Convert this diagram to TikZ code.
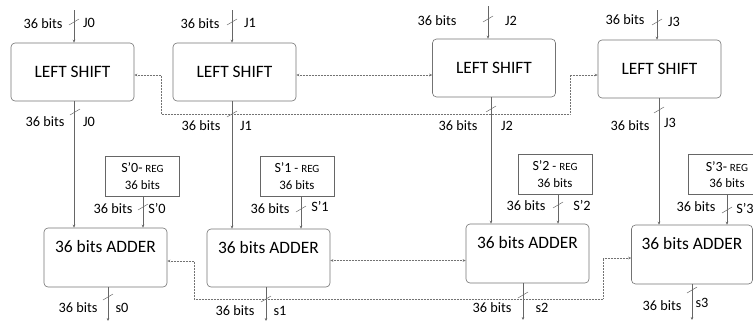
\documentclass[tikz,border=0pt]{standalone}
\usepackage{fontspec}
\setmainfont{Carlito}
\usetikzlibrary{arrows.meta}
\begin{document}
\begin{tikzpicture}[x=1pt,y=-1pt,
  box/.style={draw=black!55, rounded corners=4pt, line width=0.6pt, inner sep=0pt, minimum width=123pt},
  regbox/.style={draw=black!60, line width=0.6pt, inner sep=0pt, minimum width=74pt, minimum height=40pt,
    align=center, font=\fontsize{12.9}{16.5}\selectfont},
  wire/.style={draw=black!60, line width=0.6pt},
  arr/.style={-{Stealth[length=3pt,width=2.6pt]}},
  arrboth/.style={{Stealth[length=3pt,width=2.6pt]}-{Stealth[length=3pt,width=2.6pt]}},
  dotw/.style={draw=black!55, line width=0.6pt, dash pattern=on 0.7pt off 0.8pt},
  tick/.style={draw=black!60, line width=0.5pt},
  lbl/.style={font=\fontsize{14.3}{16}\selectfont, inner sep=0pt},
  big/.style={font=\fontsize{17.4}{20}\selectfont}
]
\useasboundingbox (0,0) rectangle (753,322);
\begin{scope}
\clip (0,0) rectangle (753,322);
% LEFT SHIFT boxes
\node[box, minimum height=58pt, big] (LS0) at (72.5,72) {LEFT SHIFT};
\node[box, minimum height=58pt, big] (LS1) at (234.5,72) {LEFT SHIFT};
\node[box, minimum height=58pt, big] (LS2) at (494,68) {LEFT SHIFT};
\node[box, minimum height=58pt, big] (LS3) at (659.5,69) {LEFT SHIFT};
% adders
\node[box, minimum height=59pt] (A0) at (105.5,257.5) {};
\node[box, minimum height=58pt] (A1) at (268.5,258) {};
\node[box, minimum height=59pt] (A2) at (527.5,253.5) {};
\node[box, minimum height=59pt, minimum width=121pt] (A3) at (692,254.5) {};
\node[big, inner sep=0pt, anchor=base] (A0t) at ([yshift=-25pt]A0.north) {36 bits ADDER};
\node[big, inner sep=0pt, anchor=base] (A1t) at ([yshift=-25pt]A1.north) {36 bits ADDER};
\node[big, inner sep=0pt, anchor=base] (A2t) at ([yshift=-25pt]A2.north) {36 bits ADDER};
\node[big, inner sep=0pt, anchor=base] (A3t) at ([yshift=-25pt]A3.north) {36 bits ADDER};
% registers
\node[regbox] (R0) at (142.5,176) {{\fontsize{14}{16.5}\selectfont S’0-} {\fontsize{11}{16.5}\selectfont REG}\\36 bits};
\node[regbox] (R1) at (297,176) {{\fontsize{14}{16.5}\selectfont S’1} - {\fontsize{11}{16.5}\selectfont REG}\\36 bits};
\node[regbox] (R2) at (555,174) {{\fontsize{14}{16.5}\selectfont S’2} - {\fontsize{11}{16.5}\selectfont REG}\\36 bits};
\node[regbox, minimum width=78pt] (R3) at (727,174.5) {{\fontsize{14}{16.5}\selectfont S’3-} {\fontsize{11}{16.5}\selectfont REG}\\36 bits};

% inputs of LEFT SHIFT
\coordinate (i0) at (74,10);
\coordinate (i1) at (232,10);
\coordinate (i2) at (488,6);
\coordinate (i3) at (657,10);
\draw[wire,arr] (i0) -- (i0 |- LS0.north);
\draw[wire,arr] (i1) -- (i1 |- LS1.north);
\draw[wire,arr] (i2) -- (i2 |- LS2.north);
\draw[wire,arr] (i3) -- (i3 |- LS3.north);
% LEFT SHIFT -> adders
\coordinate (o0) at (74,0);
\coordinate (o1) at (232,0);
\coordinate (o2) at (491,0);
\coordinate (o3) at (659,0);
\draw[wire,arr] (o0 |- LS0.south) -- (o0 |- A0.north);
\draw[wire,arr] (o1 |- LS1.south) -- (o1 |- A1.north);
\draw[wire,arr] (o2 |- LS2.south) -- (o2 |- A2.north);
\draw[wire,arr] (o3 |- LS3.south) -- (o3 |- A3.north);
% registers -> adders
\coordinate (r0) at (143,0);
\coordinate (r1) at (301,0);
\coordinate (r2) at (558,0);
\coordinate (r3) at (727,0);
\draw[wire,arr] (r0 |- R0.south) -- (r0 |- A0.north);
\draw[wire,arr] (r1 |- R1.south) -- (r1 |- A1.north);
\draw[wire,arr] (r2 |- R2.south) -- (r2 |- A2.north);
\draw[wire,arr] (r3 |- R3.south) -- (r3 |- A3.north);
% adder outputs
\coordinate (s0) at (108,321);
\coordinate (s1) at (266,321);
\coordinate (s2) at (523,320);
\coordinate (s3) at (692,320);
\draw[wire,arr] (s0 |- A0.south) -- (s0);
\draw[wire,arr] (s1 |- A1.south) -- (s1);
\draw[wire,arr] (s2 |- A2.south) -- (s2);
\draw[wire,arr] (s3 |- A3.south) -- (s3);

% dotted links
\coordinate (d1) at (161,75);
\coordinate (d2) at (161,114);
\coordinate (d3) at (570,114);
\coordinate (d4) at (570,75);
\draw[dotw,arrboth] ([yshift=-3pt]LS0.east) -- (d1) -- (d2) -- (d3) -- (d4) -- ([yshift=-6pt]LS3.west);
\draw[dotw,arrboth] ([yshift=-3pt]LS1.east) -- ([yshift=-7pt]LS2.west);
\coordinate (e1) at (194,261);
\coordinate (e2) at (194,299);
\coordinate (e3) at (603,299);
\coordinate (e4) at (603,258);
\draw[dotw,arrboth] ([yshift=-3.5pt]A0.east) -- (e1) -- (e2) -- (e3) -- (e4) -- ([yshift=-3.5pt]A3.west);
\draw[dotw,arrboth] ([yshift=-2.5pt]A1.east) -- ([yshift=-7pt]A2.west);

% bus width ticks
\foreach \x/\y in {74/22, 232/22, 488/19, 657/22,
                   75/112, 232/114, 491/109, 659/110,
                   143/207, 301/209, 558/205, 727/210,
                   108/297, 266/299, 523/295, 692/290}
  \draw[tick] (\x,\y) ++(-5,3) -- ++(10,-6);

% labels
\node[lbl] (l1) at (43,24) {36 bits};   \node[lbl] (l2) at (89,23) {J0};
\node[lbl] (l3) at (200,24) {36 bits};  \node[lbl] (l4) at (250,23) {J1};
\node[lbl] (l5) at (437,21) {36 bits};  \node[lbl] (l6) at (511,21) {J2};
\node[lbl] (l7) at (625,20) {36 bits};  \node[lbl] (l8) at (674,22) {J3};
\node[lbl] (l9) at (45,122) {36 bits};  \node[lbl] (l10) at (89,122) {J0};
\node[lbl] (l11) at (201,126) {36 bits};\node[lbl] (l12) at (246,126) {J1};
\node[lbl] (l13) at (458,126) {36 bits};\node[lbl] (l14) at (507,126) {J2};
\node[lbl] (l15) at (630,126) {36 bits};\node[lbl] (l16) at (670,123) {J3};
\node[lbl] (l17) at (113,209) {36 bits};\node[lbl] (l18) at (157,209) {S’0};
\node[lbl] (l19) at (270,209) {36 bits};\node[lbl] (l20) at (320,207) {S’1};
\node[lbl] (l21) at (526,206) {36 bits};\node[lbl] (l22) at (582,206) {S’2};
\node[lbl] (l23) at (696,207) {36 bits};\node[lbl] (l24) at (745,209) {S’3};
\node[lbl] (l25) at (78,308) {36 bits}; \node[lbl] (l26) at (122,308) {s0};
\node[lbl] (l27) at (235,311) {36 bits};\node[lbl] (l28) at (280,311) {s1};
\node[lbl] (l29) at (492,308) {36 bits};\node[lbl] (l30) at (542,308) {s2};
\node[lbl] (l31) at (662,306) {36 bits};\node[lbl] (l32) at (702,303) {s3};
\end{scope}
\end{tikzpicture}
\end{document}
